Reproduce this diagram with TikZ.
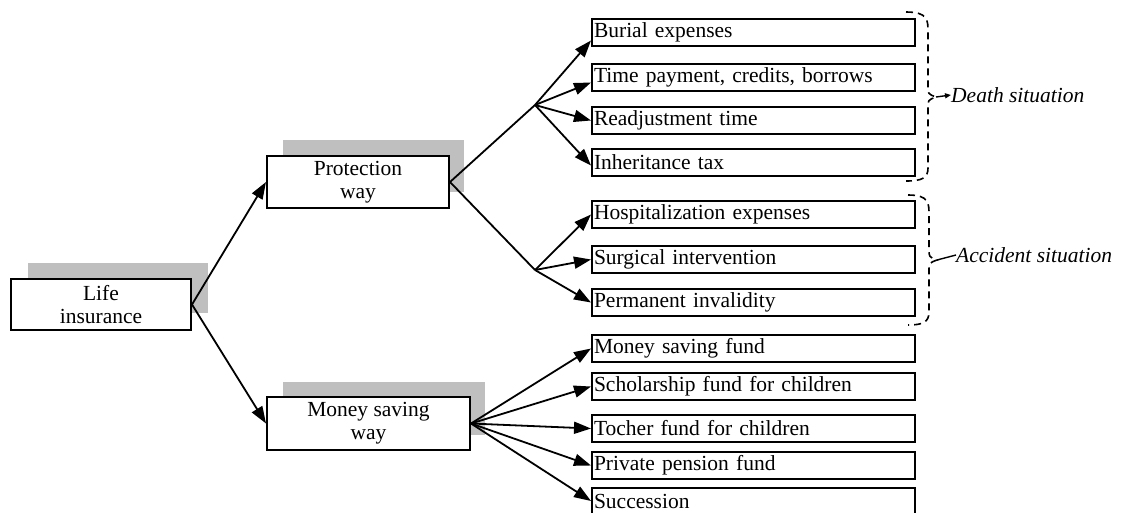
\documentclass[tikz,border=0pt]{standalone}
\usepackage{fontspec}
\setmainfont{Liberation Serif}
\usetikzlibrary{arrows.meta}
\begin{document}
\begin{tikzpicture}[x=1pt,y=-1pt,
  every node/.style={font=\fontsize{21.5}{23}\selectfont},
  mainbox/.style={draw, line width=2pt, fill=white, align=center, inner sep=0pt},
  leafbox/.style={draw, line width=2pt, fill=white, anchor=north west, minimum height=27pt,
    text width=319pt, inner xsep=2pt, inner ysep=0pt, align=left},
  shadowfill/.style={fill=black!25},
  arr/.style={line width=1.8pt, -{Triangle[length=17pt,width=12pt]}},
  conn/.style={line width=1.8pt},
  bracepath/.style={line width=1.6pt, dash pattern=on 7pt off 5pt},
  situ/.style={font=\fontsize{21.5}{23}\selectfont\itshape, anchor=west, inner sep=0pt}
]
\useasboundingbox (0,0) rectangle (1121,512);
\begin{scope}
\clip (0,0) rectangle (1121,512);
% shadows
\fill[shadowfill] (28,263) rectangle (208,313);
\fill[shadowfill] (283,140) rectangle (464,192);
\fill[shadowfill] (283,382) rectangle (485,435);

% main boxes
\node[mainbox, minimum width=180pt, minimum height=51pt] (life) at (101,304.5) {Life\\insurance};
\node[mainbox, minimum width=182pt, minimum height=52pt] (prot) at (358,182) {Protection\\way};
\node[mainbox, minimum width=203pt, minimum height=53pt] (money) at (368.5,423.5) {Money saving\\way};

% leaf boxes
\node[leafbox] (b1) at (591,18) {Burial expenses};
\node[leafbox] (b2) at (591,63) {Time payment, credits, borrows};
\node[leafbox] (b3) at (591,106) {Readjustment time};
\node[leafbox] (b4) at (591,148) {Inheritance tax};
\node[leafbox] (b5) at (591,200) {Hospitalization expenses};
\node[leafbox] (b6) at (591,245) {Surgical intervention};
\node[leafbox] (b7) at (591,288) {Permanent invalidity};
\node[leafbox] (m1) at (591,334) {Money saving fund};
\node[leafbox] (m2) at (591,372) {Scholarship fund for children};
\node[leafbox] (m3) at (591,414) {Tocher fund for children};
\node[leafbox] (m4) at (591,451) {Private pension fund};
\node[leafbox, minimum height=40pt, text depth=13pt] (m5) at (591,487) {Succession};

% junctions
\coordinate (j1) at (535,105);
\coordinate (j2) at (535,270);

% connectors
\draw[arr] (life.east) -- (prot.west);
\draw[arr] (life.east) -- (money.west);
\draw[conn] (prot.east) -- (j1);
\draw[conn] (prot.east) -- (j2);
\draw[arr] (j1) -- ([yshift=-8pt]b1.west);
\draw[arr] (j1) -- ([yshift=-5pt]b2.west);
\draw[arr] (j1) -- (b3.west);
\draw[arr] (j1) -- ([yshift=-3pt]b4.west);
\draw[arr] (j2) -- (b5.west);
\draw[arr] (j2) -- (b6.west);
\draw[arr] (j2) -- (b7.west);
\draw[arr] (money.east) -- (m1.west);
\draw[arr] (money.east) -- (m2.west);
\draw[arr] (money.east) -- (m3.west);
\draw[arr] (money.east) -- (m4.west);
\draw[arr] (money.east) -- ([yshift=-14pt]m5.north west);

% braces
\coordinate (d1) at (936,97);
\coordinate (a1) at (937,260);
\node[situ] (death) at (951,95) {Death situation};
\node[situ] (acc) at (956,255) {Accident situation};
\draw[bracepath] (906,12) .. controls (928,12) and (928,20) .. (928,32) -- (928,86)
  .. controls (928,94) .. (d1) .. controls (928,100) .. (928,108) -- (928,168)
  .. controls (928,178) and (922,181) .. (906,181);
\draw[line width=1.4pt, -{Triangle[length=6pt,width=5pt]}] (d1) -- (death.west);
\draw[bracepath] (908,195) .. controls (929,195) and (929,203) .. (929,215) -- (929,249)
  .. controls (929,257) .. (a1) .. controls (929,263) .. (929,271) -- (929,312)
  .. controls (929,322) and (923,325) .. (908,325);
\draw[line width=1.4pt] (a1) -- (acc.west);
\end{scope}
\end{tikzpicture}
\end{document}
